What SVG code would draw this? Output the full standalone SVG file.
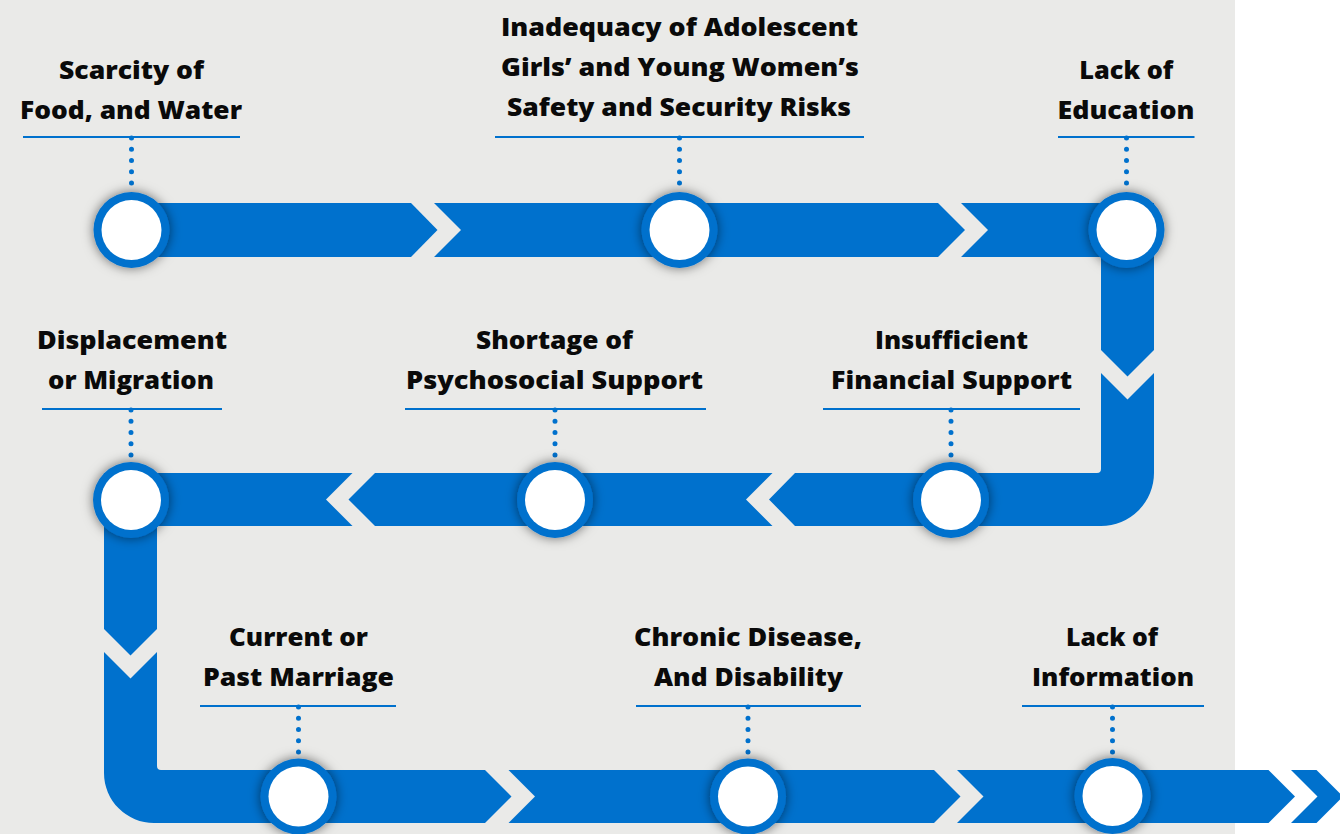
<svg xmlns="http://www.w3.org/2000/svg" width="1340" height="834" viewBox="0 0 1340 834">
<defs>
<style>
.band{fill:#0071CD;}
.lbl{font-family:"Open Sans","Liberation Sans",sans-serif;font-weight:800;font-size:25px;fill:#0a0a0a;text-anchor:middle;}
.ul{stroke:#0071CD;stroke-width:2;}
.dots{stroke:#0071CD;stroke-width:5;stroke-linecap:round;stroke-dasharray:0 11.25;fill:none;}
.ring{fill:#0071CD;filter:url(#sh);}
.hole{fill:#ffffff;}
</style>
<filter id="sh" x="-50%" y="-50%" width="200%" height="200%">
<feDropShadow dx="0" dy="0" stdDeviation="6" flood-color="#000" flood-opacity="0.55"/>
</filter>
</defs>
<rect x="0" y="0" width="1340" height="834" fill="#ffffff"/>
<rect x="0" y="0" width="1235" height="834" fill="#EAEAE8"/>
<g id="connectors">
<path class="band" d="M131,203 H411 L437.5,230 L411,257 H131 Z"/>
<path class="band" d="M434,203 H938 L965,230 L938,257 H434 L461,230 Z"/>
<path class="band" d="M961,203 H1154 V350 L1127.5,376.5 L1101,350 V257 H961 L988,230 Z"/>
<path class="band" d="M1101,373 L1127.5,399.5 L1154,373 V473 A53,53 0 0 1 1101,526 H795 L769,499.5 L795,473 H1097 Q1101,473 1101,469 Z"/>
<path class="band" d="M375,473 H772.5 L746,499.5 L772.5,526 H375 L348.5,499.5 Z"/>
<path class="band" d="M352.5,473 L326,499.5 L352.5,526 H157 V629 L130.5,655.5 L104,629 V473 Z"/>
<path class="band" d="M104,652 L130.5,678.5 L157,652 V766 Q157,770 161,770 H485 L511.5,796.5 L485,823 H154 A50,50 0 0 1 104,773 Z"/>
<path class="band" d="M508.5,770 H934 L960.5,796.5 L934,823 H508.5 L535,796.5 Z"/>
<path class="band" d="M957,770 H1268.5 L1295,796.5 L1268.5,823 H957 L983.5,796.5 Z"/>
<path class="band" d="M1291,770 H1316.5 L1343,796.5 L1316.5,823 H1291 L1317.5,796.5 Z"/>
</g>
<g id="node-scarcity">
<text class="lbl" x="131.5" y="79" textLength="145" lengthAdjust="spacingAndGlyphs">Scarcity of</text>
<text class="lbl" x="131" y="119" textLength="222" lengthAdjust="spacingAndGlyphs">Food, and Water</text>
<line class="ul" x1="23" y1="137" x2="240" y2="137"/>
<line class="dots" x1="131.5" y1="138" x2="131.5" y2="184"/>
<circle class="ring" cx="131.5" cy="230" r="38"/>
<circle class="hole" cx="131.5" cy="230" r="30"/>
</g>
<g id="node-inadequacy">
<text class="lbl" x="679.5" y="36" textLength="357" lengthAdjust="spacingAndGlyphs">Inadequacy of Adolescent</text>
<text class="lbl" x="680" y="76" textLength="358" lengthAdjust="spacingAndGlyphs">Girls’ and Young Women’s</text>
<text class="lbl" x="679" y="116" textLength="344" lengthAdjust="spacingAndGlyphs">Safety and Security Risks</text>
<line class="ul" x1="495" y1="137" x2="864" y2="137"/>
<line class="dots" x1="679.5" y1="138" x2="679.5" y2="184"/>
<circle class="ring" cx="679.5" cy="230" r="38"/>
<circle class="hole" cx="679.5" cy="230" r="30"/>
</g>
<g id="node-education">
<text class="lbl" x="1126.3" y="79" textLength="94" lengthAdjust="spacingAndGlyphs">Lack of</text>
<text class="lbl" x="1126" y="119" textLength="137" lengthAdjust="spacingAndGlyphs">Education</text>
<line class="ul" x1="1058" y1="137" x2="1194.5" y2="137"/>
<line class="dots" x1="1126.5" y1="138" x2="1126.5" y2="184"/>
<circle class="ring" cx="1126.5" cy="230" r="38"/>
<circle class="hole" cx="1126.5" cy="230" r="30"/>
</g>
<g id="node-financial">
<text class="lbl" x="951.5" y="349" textLength="153" lengthAdjust="spacingAndGlyphs">Insufficient</text>
<text class="lbl" x="951.5" y="389" textLength="241" lengthAdjust="spacingAndGlyphs">Financial Support</text>
<line class="ul" x1="823" y1="409" x2="1080" y2="409"/>
<line class="dots" x1="951" y1="410" x2="951" y2="456"/>
<circle class="ring" cx="951" cy="500" r="38"/>
<circle class="hole" cx="951" cy="500" r="30"/>
</g>
<g id="node-psychosocial">
<text class="lbl" x="554.5" y="349" textLength="157" lengthAdjust="spacingAndGlyphs">Shortage of</text>
<text class="lbl" x="554.5" y="389" textLength="297" lengthAdjust="spacingAndGlyphs">Psychosocial Support</text>
<line class="ul" x1="405" y1="409" x2="706" y2="409"/>
<line class="dots" x1="555" y1="410" x2="555" y2="456"/>
<circle class="ring" cx="555" cy="500" r="38"/>
<circle class="hole" cx="555" cy="500" r="30"/>
</g>
<g id="node-displacement">
<text class="lbl" x="132" y="349" textLength="190" lengthAdjust="spacingAndGlyphs">Displacement</text>
<text class="lbl" x="131" y="389" textLength="166" lengthAdjust="spacingAndGlyphs">or Migration</text>
<line class="ul" x1="42" y1="409" x2="222" y2="409"/>
<line class="dots" x1="131" y1="410" x2="131" y2="456"/>
<circle class="ring" cx="131" cy="500" r="38"/>
<circle class="hole" cx="131" cy="500" r="30"/>
</g>
<g id="node-marriage">
<text class="lbl" x="298.5" y="646" textLength="139" lengthAdjust="spacingAndGlyphs">Current or</text>
<text class="lbl" x="298.5" y="686" textLength="191" lengthAdjust="spacingAndGlyphs">Past Marriage</text>
<line class="ul" x1="200" y1="706" x2="396" y2="706"/>
<line class="dots" x1="298.5" y1="707" x2="298.5" y2="753"/>
<circle class="ring" cx="298.5" cy="796.5" r="38"/>
<circle class="hole" cx="298.5" cy="796.5" r="30"/>
</g>
<g id="node-chronic">
<text class="lbl" x="748" y="646" textLength="228" lengthAdjust="spacingAndGlyphs">Chronic Disease,</text>
<text class="lbl" x="748.5" y="686" textLength="189" lengthAdjust="spacingAndGlyphs">And Disability</text>
<line class="ul" x1="636" y1="706" x2="861" y2="706"/>
<line class="dots" x1="748" y1="707" x2="748" y2="753"/>
<circle class="ring" cx="748" cy="796.5" r="38"/>
<circle class="hole" cx="748" cy="796.5" r="30"/>
</g>
<g id="node-information">
<text class="lbl" x="1112" y="646" textLength="92" lengthAdjust="spacingAndGlyphs">Lack of</text>
<text class="lbl" x="1113" y="686" textLength="162" lengthAdjust="spacingAndGlyphs">Information</text>
<line class="ul" x1="1022" y1="706" x2="1204" y2="706"/>
<line class="dots" x1="1112.5" y1="707" x2="1112.5" y2="753"/>
<circle class="ring" cx="1112.5" cy="796" r="38"/>
<circle class="hole" cx="1112.5" cy="796" r="30"/>
</g>
</svg>
